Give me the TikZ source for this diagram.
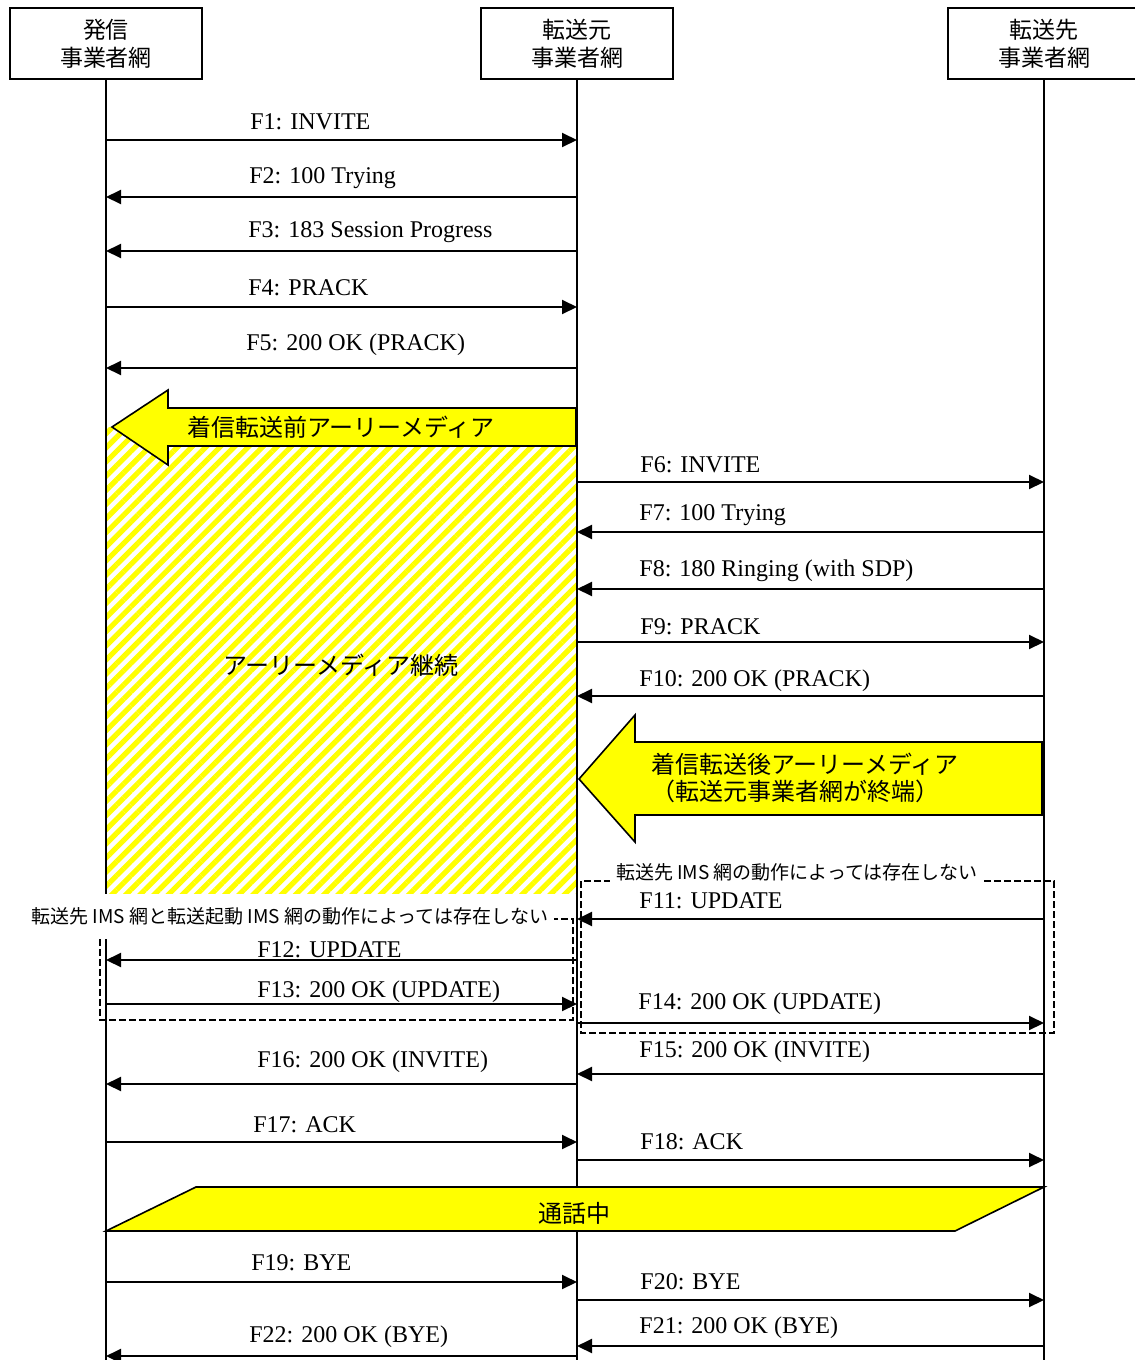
\documentclass[tikz,border=0pt]{standalone}
\usepackage{fontspec}
\setmainfont{Liberation Serif}
\newfontfamily\jp{Noto Sans CJK JP}
\usetikzlibrary{arrows.meta,patterns.meta,positioning}
\definecolor{media}{RGB}{255,255,0}
\tikzset{%
	entity/.style = {draw, line width=0.8pt, rectangle, minimum width=96pt, minimum height=35.5pt, inner sep=0pt, align=center, font=\jp\fontsize{11.5}{14}\selectfont}, % Participant
	life/.style   = {line width=0.8pt}, % Lifeline
	msg/.style    = {line width=1pt, -{Triangle[length=7.5pt,width=7pt]}}, % Message
	lab/.style    = {anchor=west, inner sep=0pt, font=\fontsize{12}{14}\selectfont}, % Message label
	mediaarrow/.style = {draw, line width=0.8pt, fill=media}, % Media arrow
	mtext/.style  = {inner sep=0pt, align=left, font=\jp\fontsize{12}{13.5}\selectfont}, % Media text
	optbox/.style = {draw, line width=0.9pt, dash pattern=on 3.5pt off 1.5pt}, % Optional part
	note/.style   = {fill=white, inner ysep=1pt, inner xsep=3pt, font=\jp\fontsize{9.5}{10}\selectfont}, % Note
}
\begin{document}
\begin{tikzpicture}[x=0.5pt, y=-0.5pt]
	\clip (0,0) rectangle (1135,1360);
	% participants
	\node[entity] (orig) at (106,43.5) {発信\\事業者網};
	\node[entity] (fwd) at (577,43.5) {転送元\\事業者網};
	\node[entity] (dest) at (1044,43.5) {転送先\\事業者網};
	% early media kept
	\fill[pattern={Lines[angle=45,distance=5pt,line width=2.6pt]}, pattern color=media] (orig |- 0,427) rectangle (fwd |- 0,893);
	\node[mtext] (keep) at (341,665) {アーリーメディア継続};
	% lifelines
	\draw[life] (orig) -- (orig |- 0,1360);
	\draw[life] (fwd) -- (fwd |- 0,1360);
	\draw[life] (dest) -- (dest |- 0,1360);
	% media arrows
	\draw[mediaarrow] (576,408) -- (168,408) -- (168,390) -- (112,427) -- (168,465) -- (168,446) -- (576,446) -- cycle;
	\node[mtext] (pre) at (341,427) {着信転送前アーリーメディア};
	\draw[mediaarrow] (1042,742) -- (635,742) -- (635,715) -- (579,779) -- (635,842) -- (635,815) -- (1042,815) -- cycle;
	\node[mtext] (post) at (805,778) {着信転送後アーリーメディア\\（転送元事業者網が終端）};
	\draw[mediaarrow] (196,1187) -- (dest |- 0,1187) -- (955,1231) -- (orig |- 0,1231) -- cycle;
	\node[mtext] (talk) at (574,1213) {通話中};
	% messages
	\draw[msg] (orig |- 0,140) -- (fwd |- 0,140);
	\node[lab] (f1) at (250,122) {F1: INVITE};
	\draw[msg] (fwd |- 0,197) -- (orig |- 0,197);
	\node[lab] (f2) at (249,178) {F2: 100 Trying};
	\draw[msg] (fwd |- 0,251) -- (orig |- 0,251);
	\node[lab] (f3) at (248,232) {F3: 183 Session Progress};
	\draw[msg] (orig |- 0,307) -- (fwd |- 0,307);
	\node[lab] (f4) at (248,288) {F4: PRACK};
	\draw[msg] (fwd |- 0,368) -- (orig |- 0,368);
	\node[lab] (f5) at (246,345) {F5: 200 OK (PRACK)};
	\draw[msg] (fwd |- 0,482) -- (dest |- 0,482);
	\node[lab] (f6) at (640,465) {F6: INVITE};
	\draw[msg] (dest |- 0,532) -- (fwd |- 0,532);
	\node[lab] (f7) at (639,515) {F7: 100 Trying};
	\draw[msg] (dest |- 0,589) -- (fwd |- 0,589);
	\node[lab] (f8) at (639,571) {F8: 180 Ringing (with SDP)};
	\draw[msg] (fwd |- 0,642) -- (dest |- 0,642);
	\node[lab] (f9) at (640,627) {F9: PRACK};
	\draw[msg] (dest |- 0,696) -- (fwd |- 0,696);
	\node[lab] (f10) at (639,681) {F10: 200 OK (PRACK)};
	\draw[msg] (dest |- 0,919) -- (fwd |- 0,919);
	\node[lab] (f11) at (639,901) {F11: UPDATE};
	\draw[msg] (fwd |- 0,960) -- (orig |- 0,960);
	\node[lab] (f12) at (257,950) {F12: UPDATE};
	\draw[msg] (orig |- 0,1004) -- (fwd |- 0,1004);
	\node[lab] (f13) at (257,992) {F13: 200 OK (UPDATE)};
	\draw[msg] (fwd |- 0,1023) -- (dest |- 0,1023);
	\node[lab] (f14) at (638,1004) {F14: 200 OK (UPDATE)};
	\draw[msg] (dest |- 0,1074) -- (fwd |- 0,1074);
	\node[lab] (f15) at (639,1052) {F15: 200 OK (INVITE)};
	\draw[msg] (fwd |- 0,1084) -- (orig |- 0,1084);
	\node[lab] (f16) at (257,1062) {F16: 200 OK (INVITE)};
	\draw[msg] (orig |- 0,1142) -- (fwd |- 0,1142);
	\node[lab] (f17) at (253,1125) {F17: ACK};
	\draw[msg] (fwd |- 0,1160) -- (dest |- 0,1160);
	\node[lab] (f18) at (640,1142) {F18: ACK};
	\draw[msg] (orig |- 0,1282) -- (fwd |- 0,1282);
	\node[lab] (f19) at (251,1263) {F19: BYE};
	\draw[msg] (fwd |- 0,1300) -- (dest |- 0,1300);
	\node[lab] (f20) at (640,1282) {F20: BYE};
	\draw[msg] (dest |- 0,1346) -- (fwd |- 0,1346);
	\node[lab] (f21) at (639,1328) {F21: 200 OK (BYE)};
	\draw[msg] (fwd |- 0,1356) -- (orig |- 0,1356);
	\node[lab] (f22) at (249,1337) {F22: 200 OK (BYE)};
	% optional parts
	\draw[optbox] (581,881) rectangle (1054,1033);
	\draw[optbox] (100,919) rectangle (573,1020);
	\node[note] (opt1) at (797,872) {転送先 IMS 網の動作によっては存在しない};
	\node[note, minimum height=22.5pt] (opt2) at (290,916) {転送先 IMS 網と転送起動 IMS 網の動作によっては存在しない};
\end{tikzpicture}
\end{document}
